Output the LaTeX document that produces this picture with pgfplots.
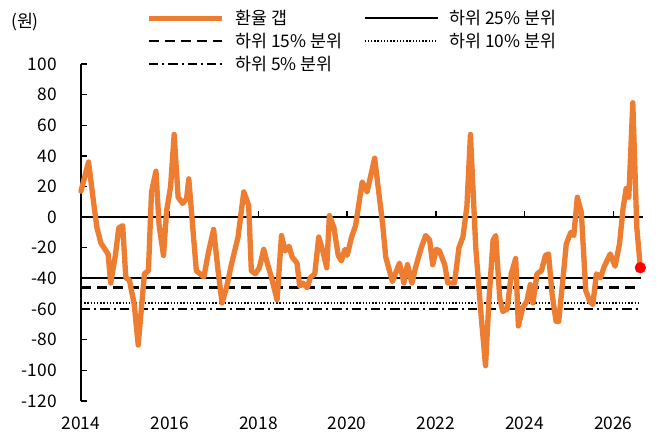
\documentclass[border=0pt]{standalone}
\usepackage{pgfplots}
\pgfplotsset{compat=1.18}
\usepackage{fontspec}
\setmainfont{Noto Sans CJK KR}
\definecolor{gapc}{HTML}{ED7D31}

\pgfplotstableread{
yr      v
2014.00 17
2014.17 36
2014.30 6
2014.36 -7
2014.45 -17
2014.61 -24
2014.67 -43
2014.78 -24
2014.85 -7
2014.94 -5.5
2015.01 -39.5
2015.09 -41
2015.20 -57
2015.29 -83.5
2015.43 -37
2015.52 -35
2015.59 16.5
2015.69 30
2015.76 -5
2015.86 -25
2015.93 4
2016.02 20
2016.10 54
2016.19 13
2016.29 9
2016.38 12
2016.43 25
2016.49 4
2016.60 -35
2016.77 -39
2016.88 -22
2016.99 -8
2017.09 -35
2017.18 -56
2017.28 -46
2017.39 -31
2017.54 -13
2017.67 16.5
2017.78 7.7
2017.84 -35
2017.93 -37
2018.02 -33
2018.12 -21
2018.20 -30
2018.30 -40
2018.42 -54
2018.52 -12
2018.60 -22
2018.69 -19
2018.76 -26
2018.87 -30
2018.93 -45
2019.00 -43
2019.10 -46
2019.17 -39.5
2019.27 -37
2019.36 -13
2019.45 -22
2019.54 -33
2019.60 1
2019.70 -6.6
2019.80 -25
2019.87 -28.5
2019.95 -21
2020.00 -25
2020.10 -13
2020.19 -5.5
2020.34 23
2020.45 16.5
2020.62 38.5
2020.80 -4.4
2020.87 -26
2021.02 -42
2021.18 -30
2021.28 -43
2021.36 -31
2021.46 -43
2021.56 -31
2021.67 -20
2021.77 -12
2021.86 -15
2021.93 -31
2022.01 -21
2022.08 -22
2022.20 -31
2022.27 -43
2022.42 -43
2022.52 -20
2022.61 -13
2022.70 7
2022.78 54
2022.90 -20
2023.02 -64
2023.12 -97
2023.20 -53
2023.29 -15
2023.35 -12
2023.44 -53
2023.51 -61.5
2023.61 -60
2023.70 -37
2023.80 -27
2023.86 -71
2023.96 -59
2024.05 -55
2024.13 -44
2024.19 -56
2024.28 -37
2024.38 -35
2024.47 -25
2024.54 -24
2024.62 -50
2024.71 -68
2024.77 -68
2024.86 -42
2024.94 -17.5
2025.04 -10
2025.11 -12
2025.19 13
2025.28 3
2025.38 -48
2025.47 -55
2025.54 -57
2025.62 -37
2025.71 -39.5
2025.80 -32
2025.93 -24
2026.04 -32
2026.14 -17.5
2026.22 5.5
2026.29 18.7
2026.35 13
2026.44 74.7
2026.53 -6.6
2026.61 -33
}\gapdata

\begin{document}
\begin{tikzpicture}[font=\fontsize{13}{15}\selectfont]
\useasboundingbox (-60.75pt,-33pt) rectangle (432.75pt,300.75pt);
\begin{axis}[
  at={(0pt,0pt)}, anchor=south west,
  scale only axis, width=421.5pt, height=252.75pt,
  xmin=2014, xmax=2026.67, ymin=-120, ymax=100,
  axis x line*=middle, axis y line*=left,
  hide obscured x ticks=false, hide obscured y ticks=false,
  xtick={2014,2016,...,2026}, ytick={-120,-100,...,100},
  tick align=inside, major tick length=4.5pt,
  tick style={black, line width=1pt},
  axis line style={black, line width=1.5pt},
  xticklabel style={yshift=-146.5pt},
  yticklabel style={inner sep=0pt, xshift=-18pt},
  /pgf/number format/assume math mode=true,
  /pgf/number format/1000 sep={},
  clip=false,
  legend columns=2,
  legend cell align=left,
  legend image code/.code={\draw[#1] (0pt,0pt) -- (55pt,0pt);},
  legend style={draw=none, fill=none, inner sep=0pt,
    at={(0.1155,1.169)}, anchor=north west,
    nodes={inner sep=2pt},
    row sep=1pt,
    /tikz/every odd column/.append style={column sep=6pt},
    /tikz/every even column/.append style={column sep=14pt}},
]
\addlegendimage{gapc, line width=4pt}
\addlegendentry{환율 갭}
\addlegendimage{black, line width=1.5pt}
\addlegendentry{하위 25\% 분위}
\addlegendimage{black, line width=1.8pt, dash pattern=on 7.5pt off 4.5pt}
\addlegendentry{하위 15\% 분위}
\addlegendimage{black, line width=1.1pt, dash pattern=on 1.1pt off 1.3pt}
\addlegendentry{하위 10\% 분위}
\addlegendimage{black, line width=1.8pt, dash pattern=on 7pt off 3pt on 1.5pt off 3pt}
\addlegendentry{하위 5\% 분위}

\addplot[forget plot, black, line width=1.5pt] coordinates {(2014,-39.5) (2026.62,-39.5)};
\addplot[forget plot, black, line width=1.8pt, dash pattern=on 7.5pt off 4.5pt] coordinates {(2014,-46) (2026.62,-46)};
\addplot[forget plot, black, line width=1.1pt, dash pattern=on 1.1pt off 1.3pt] coordinates {(2014,-56) (2026.62,-56)};
\addplot[forget plot, black, line width=1.8pt, dash pattern=on 7pt off 3pt on 1.5pt off 3pt] coordinates {(2014,-60) (2026.62,-60)};
\addplot[forget plot, gapc, line width=4pt, line join=round, line cap=round] table[x=yr, y=v] {\gapdata};
\addplot[forget plot, only marks, mark=*, mark size=4pt, red, mark options={fill=red, draw=red}] coordinates {(2026.61,-33)};
\end{axis}
\node at (-42pt,284.25pt) {(원)};
\end{tikzpicture}
\end{document}
